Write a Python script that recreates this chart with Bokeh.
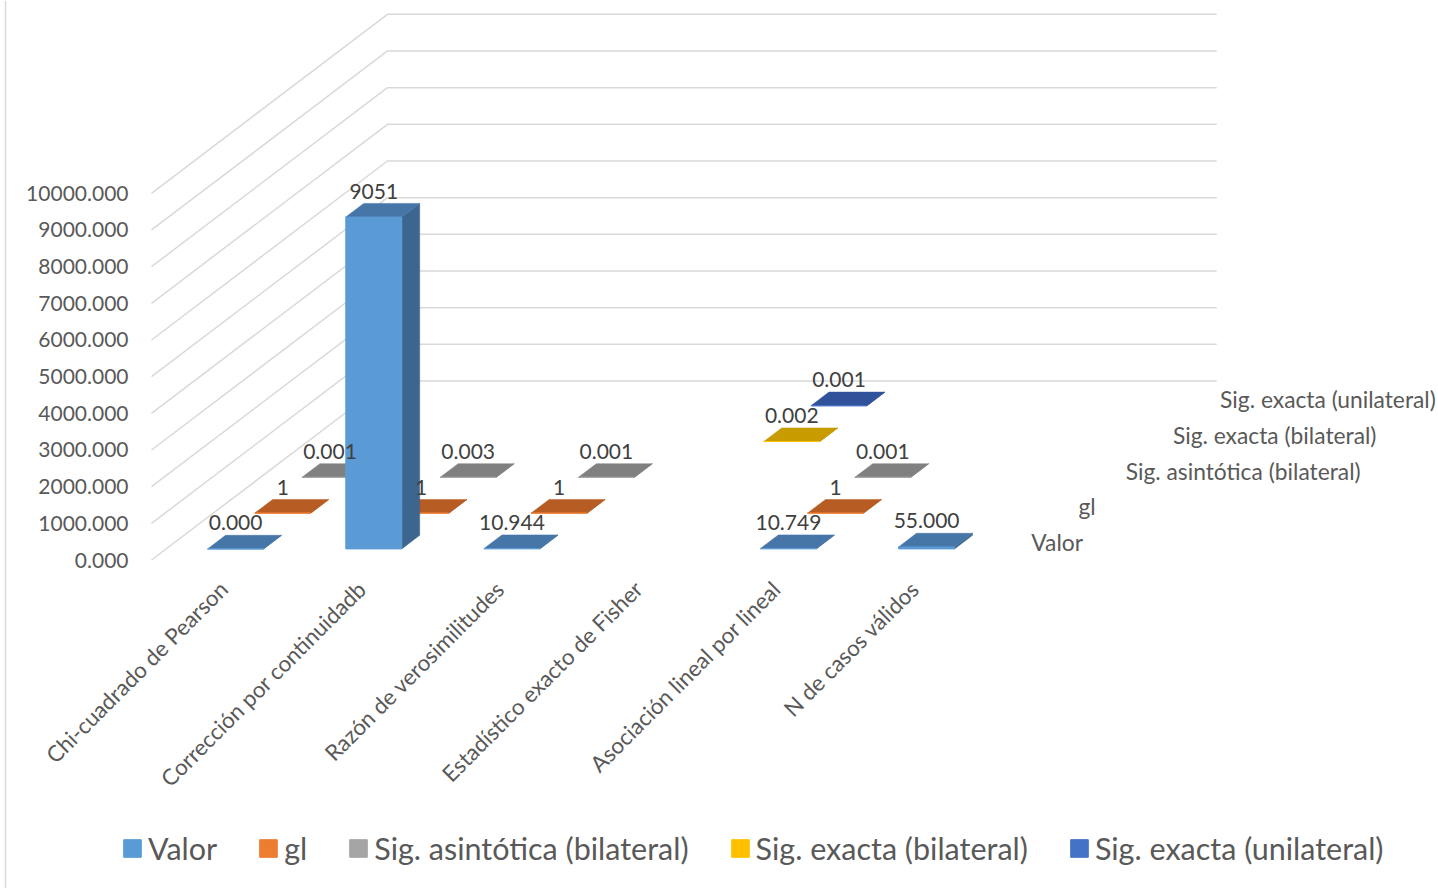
import math
from bokeh.plotting import figure
from bokeh.models import Range1d, Span, Legend, LegendItem
from bokeh.core.properties import value
from bokeh.embed import file_html
from bokeh.resources import INLINE

# ---------------- data ----------------
categories = ["Chi-cuadrado de Pearson", "Corrección por continuidadb", "Razón de verosimilitudes",
              "Estadístico exacto de Fisher", "Asociación lineal por lineal", "N de casos válidos"]
series_names = ["Valor", "gl", "Sig. asintótica (bilateral)", "Sig. exacta (bilateral)",
                "Sig. exacta (unilateral)"]
valor = [0.0, 9051.0, 10.944, None, 10.749, 55.0]
gl = [1, 1, 1, None, 1, None]
sig_asintotica = [0.001, 0.003, 0.001, None, 0.001, None]
sig_exacta_bil = [None, None, None, 0.002, None, None]
sig_exacta_uni = [None, None, None, 0.001, None, None]
valor_labels = ["0.000", "9051", "10.944", None, "10.749", "55.000"]
gl_labels = ["1", "1", "1", None, "1", None]
asint_labels = ["0.001", "0.003", "0.001", None, "0.001", None]
bil_labels = [None, None, None, "0.002", None, None]
uni_labels = [None, None, None, "0.001", None, None]
y_ticks = [0, 1000, 2000, 3000, 4000, 5000, 6000, 7000, 8000, 9000, 10000]

series_values = [valor, gl, sig_asintotica, sig_exacta_bil, sig_exacta_uni]
series_labels = [valor_labels, gl_labels, asint_labels, bil_labels, uni_labels]

front_colors = ["#5B9BD5", "#ED7D31", "#A5A5A5", "#FFC000", "#4472C4"]
top_colors = ["#4675A7", "#B75C22", "#808080", "#C89B00", "#30529A"]
side_colors = ["#3C6690", "#9E4F1C", "#6E6E6E", "#A88200", "#284682"]

# ---------------- geometry (oblique 3D projection) ----------------
W, H = 1438, 888
X0_PX, Y0_PX = 151.0, 559.5          # where category 0 / value 0 of the front plane sit
PX_PER_CAT = 138.2
PX_PER_VAL = 366.7 / 10000.0
DEPTH_DX = 47.2 / PX_PER_CAT          # category units per series row
DEPTH_DY = 35.8 / PX_PER_VAL          # value units per series row
N_SER = len(series_names)
N_CAT = len(categories)
BAR_X0, BAR_X1 = 0.30, 0.705
BAR_Z0, BAR_Z1 = 0.31, 0.69


def proj(x, v, z):
    return x + z * DEPTH_DX, v + z * DEPTH_DY


p = figure(width=W, height=H, output_backend="svg", toolbar_location=None,
           x_range=Range1d(-X0_PX / PX_PER_CAT, (W - X0_PX) / PX_PER_CAT),
           y_range=Range1d(-(H - Y0_PX) / PX_PER_VAL, Y0_PX / PX_PER_VAL),
           min_border=0, outline_line_color=None, background_fill_color="white")
p.axis.visible = False
p.grid.visible = False

FONT = value("Lato")

# chart border (left edge)
p.add_layout(Span(location=(5 - X0_PX) / PX_PER_CAT, dimension="height",
                  line_color="#D9D9D9", line_width=1.5))

# ---------------- walls gridlines ----------------
gx, gy = [], []
for t in y_ticks:
    a = proj(0, t, 0)
    b = proj(0, t, N_SER)
    c = proj(N_CAT, t, N_SER)
    gx.append([a[0], b[0], c[0]])
    gy.append([a[1], b[1], c[1]])
p.multi_line(gx, gy, line_color="#D9D9D9", line_width=1.5)

# ---------------- bars ----------------
legend_renderers = {}
for s in reversed(range(N_SER)):
    fx, fy, tx, ty, sx, sy = [], [], [], [], [], []
    z0, z1 = s + BAR_Z0, s + BAR_Z1
    for i, v in enumerate(series_values[s]):
        if v is None:
            continue
        x0, x1 = i + BAR_X0, i + BAR_X1
        pts = [proj(x0, 0, z0), proj(x1, 0, z0), proj(x1, v, z0), proj(x0, v, z0)]
        fx.append([q[0] for q in pts]); fy.append([q[1] for q in pts])
        pts = [proj(x0, v, z0), proj(x1, v, z0), proj(x1, v, z1), proj(x0, v, z1)]
        tx.append([q[0] for q in pts]); ty.append([q[1] for q in pts])
        pts = [proj(x1, 0, z0), proj(x1, 0, z1), proj(x1, v, z1), proj(x1, v, z0)]
        sx.append([q[0] for q in pts]); sy.append([q[1] for q in pts])
    p.patches(sx, sy, fill_color=side_colors[s], line_color=side_colors[s], line_width=0.5)
    p.patches(tx, ty, fill_color=top_colors[s], line_color=top_colors[s], line_width=0.5)
    r = p.patches(fx, fy, fill_color=front_colors[s], line_color=front_colors[s], line_width=1)
    legend_renderers[s] = r

# ---------------- data labels ----------------
for s in range(N_SER):
    lx, ly, lt = [], [], []
    for i, v in enumerate(series_values[s]):
        lab = series_labels[s][i]
        if v is None or lab is None:
            continue
        q = proj(i + (BAR_X0 + BAR_X1) / 2, v, s + BAR_Z0)
        lx.append(q[0]); ly.append(q[1]); lt.append(lab)
    p.text(lx, ly, text=lt, text_align="center", text_baseline="middle", y_offset=-26,
           text_font=FONT, text_font_size="21px", text_color="#404040")

# ---------------- value axis labels (front plane) ----------------
ax_x = [proj(0, t, 0)[0] for t in y_ticks]
ax_y = [proj(0, t, 0)[1] for t in y_ticks]
p.text(ax_x, ax_y, text=["%.3f" % t for t in y_ticks], text_align="right",
       text_baseline="middle", x_offset=-23, text_font=FONT, text_font_size="21px",
       text_color="#595959")

# ---------------- category labels ----------------
cx = [proj(i + 0.5, 0, 0)[0] for i in range(N_CAT)]
cy = [proj(i + 0.5, 0, 0)[1] for i in range(N_CAT)]
p.text(cx, cy, text=categories, angle=math.pi / 4, text_align="right", text_baseline="middle",
       x_offset=3, y_offset=25, text_font=FONT, text_font_size="22.3px", text_color="#595959")

# ---------------- series (depth) labels ----------------
sxs = [proj(N_CAT, 0, s + 0.5)[0] for s in range(N_SER)]
sys_ = [proj(N_CAT, 0, s + 0.5)[1] for s in range(N_SER)]
p.text(sxs, sys_, text=series_names, text_align="left", text_baseline="middle", x_offset=27,
       text_font=FONT, text_font_size="22.8px", text_color="#595959")

# ---------------- legend ----------------
legend = Legend(items=[LegendItem(label=series_names[s], renderers=[legend_renderers[s]])
                       for s in range(N_SER)],
                orientation="horizontal", location=(121, 22),
                label_text_font="Lato", label_text_font_size="30.5px", label_text_color="#595959",
                glyph_width=22, glyph_height=22, label_standoff=5, spacing=40,
                padding=0, margin=0, border_line_color=None, background_fill_alpha=0)
p.add_layout(legend)

open("out.html", "w").write(file_html(p, INLINE))
